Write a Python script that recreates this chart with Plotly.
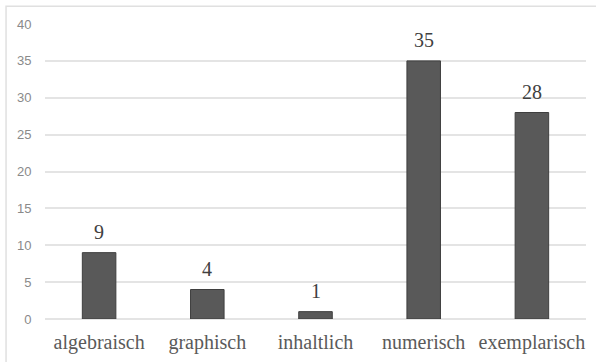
import plotly.graph_objects as go

categories = ["algebraisch", "graphisch", "inhaltlich", "numerisch", "exemplarisch"]
counts = [9, 4, 1, 35, 28]
y_ticks = [0, 5, 10, 15, 20, 25, 30, 35, 40]

fig = go.Figure()
fig.add_trace(go.Bar(
    x=categories,
    y=counts,
    marker=dict(color="#595959", line=dict(color="#3f3f3f", width=1)),
    hoverinfo="skip",
))

# value labels above each bar
for cat, val in zip(categories, counts):
    fig.add_annotation(
        x=cat, y=val, text=str(val), showarrow=False,
        yanchor="bottom", yshift=8,
        font=dict(family="Liberation Serif", size=20, color="#404040"),
    )

# light frame around the chart area
fig.add_shape(
    type="rect", xref="paper", yref="paper",
    x0=-0.072, x1=1.2, y0=-0.4, y1=1.06,
    line=dict(color="#e0e0e0", width=1.5), layer="below",
)

fig.update_layout(
    width=596, height=362,
    margin=dict(l=45, r=10, t=24, b=43, autoexpand=False),
    paper_bgcolor="white", plot_bgcolor="white",
    bargap=0.69,
    showlegend=False,
    xaxis=dict(
        automargin=False,
        showgrid=False, showline=False, zeroline=False,
        ticks="outside", ticklen=5, tickcolor="rgba(0,0,0,0)",
        tickfont=dict(family="Liberation Serif", size=20, color="#5a5a5a"),
    ),
    yaxis=dict(
        automargin=False,
        range=[0, 40], tickvals=y_ticks,
        showgrid=True, gridcolor="#e4e4e4", gridwidth=1.5,
        zeroline=True, zerolinecolor="#e4e4e4", zerolinewidth=1.5,
        showline=False,
        ticks="outside", ticklen=10, tickcolor="rgba(0,0,0,0)",
        tickfont=dict(family="Liberation Sans", size=13, color="#8a8a8a"),
    ),
)

fig.write_html("out.html")
